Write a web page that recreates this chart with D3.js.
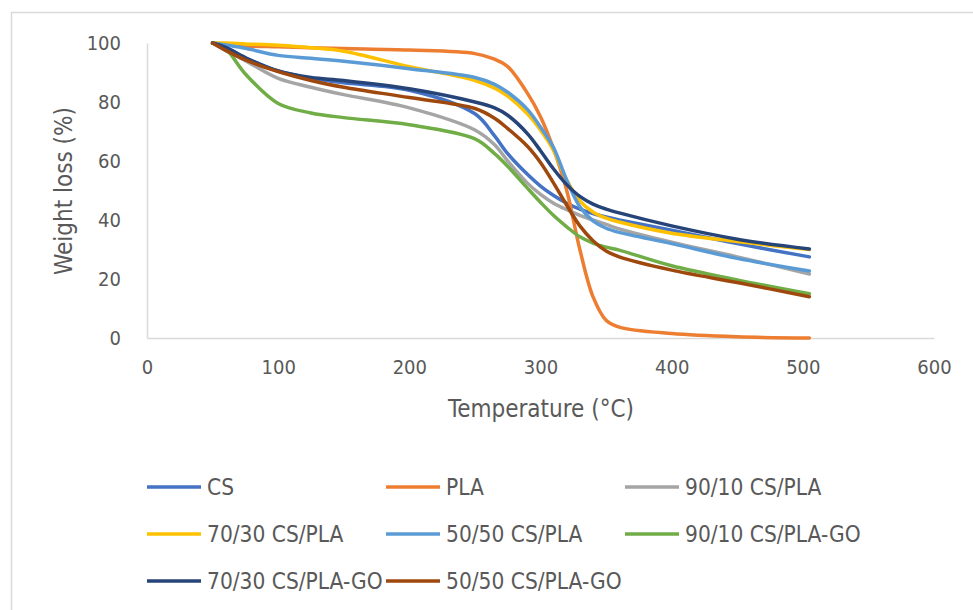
<!DOCTYPE html>
<html>
<head>
<meta charset="utf-8">
<script src="https://cdn.jsdelivr.net/npm/d3@7"></script>
<style>
  html, body { margin: 0; padding: 0; background: #fff; }
  svg text { font-family: "Liberation Sans Narrow", "DejaVu Sans Condensed", "Liberation Sans", sans-serif; fill: #595959; }
</style>
</head>
<body>
<svg id="chart" width="973" height="610"></svg>
<script>
// ---- data ----
const temps = [50, 60, 75, 100, 125, 150, 200, 250, 265, 275, 290, 300, 310, 320, 330, 340, 350, 360, 400, 450, 505];
const seriesNames = ["CS", "PLA", "90/10 CS/PLA", "70/30 CS/PLA", "50/50 CS/PLA", "90/10 CS/PLA-GO", "70/30 CS/PLA-GO", "50/50 CS/PLA-GO"];
const seriesColors = ["#4472C4", "#ED7D31", "#A5A5A5", "#FFC000", "#5B9BD5", "#70AD47", "#264478", "#9E480E"];
const cs        = [100, 98.5, 95, 90.5, 88, 86.5, 84, 76, 68.5, 62.5, 55.5, 51.5, 48.3, 45.7, 43.7, 42.2, 41, 40, 36.5, 32, 27.5];
const pla       = [100, 99.5, 99, 98.7, 98.4, 98.1, 97.6, 96.4, 94.5, 92, 83, 75, 64, 50, 30, 14, 6, 3.7, 1.5, 0.4, 0];
const cs90pla10 = [100, 97.5, 94, 88, 85, 82.5, 78, 70.5, 65.5, 60, 52.5, 48.7, 45.7, 43.5, 41.6, 40, 38.5, 37, 32.5, 27.5, 21.7];
const cs70pla30 = [100, 100, 99.7, 99.2, 98.4, 97.2, 92, 87.3, 84.7, 82, 76, 70.5, 63.5, 53.5, 46.5, 42.7, 40.6, 39.3, 35.5, 32.7, 30];
const cs50pla50 = [100, 99.3, 98.2, 95.8, 94.8, 93.8, 91.3, 88.3, 86, 83.3, 77.5, 71.5, 64.5, 53.5, 44.5, 39.7, 37.2, 35.8, 32, 27, 22.7];
const go90      = [100, 98, 89.5, 79.5, 76.3, 74.7, 72.3, 67.5, 62.5, 58.2, 50.8, 46, 41.5, 37.7, 34.3, 32.2, 30.8, 29.8, 24.5, 19.7, 15];
const go70      = [100, 98.5, 95, 90.5, 88.3, 87.3, 84.5, 80, 78, 75.5, 69.3, 63.5, 57.3, 52, 48, 45.4, 43.7, 42.4, 38, 33.5, 30.2];
const go50      = [100, 97.5, 94.3, 90.3, 87.3, 85, 81.5, 77.8, 74.5, 71, 65, 59.5, 52.5, 45, 38, 33, 29.5, 27.5, 23, 18.8, 14];
const xTicks = [0, 100, 200, 300, 400, 500, 600];
const yTicks = [0, 20, 40, 60, 80, 100];
const xTitle = "Temperature (°C)";
const yTitle = "Weight loss (%)";

const seriesValues = [cs, pla, cs90pla10, cs70pla30, cs50pla50, go90, go70, go50];

// ---- drawing ----
const svg = d3.select("#chart");
svg.append("rect").attr("x", 11.5).attr("y", 12.5).attr("width", 980).attr("height", 620)
  .attr("fill", "#fff").attr("stroke", "#d9d9d9").attr("stroke-width", 1.5);

const x = d3.scaleLinear().domain([0, 600]).range([147, 934]);
const y = d3.scaleLinear().domain([0, 100]).range([338, 43]);

// axes
const xAxis = svg.append("g").attr("transform", `translate(0,${y(0)})`)
  .call(d3.axisBottom(x).tickValues(xTicks).tickSize(0).tickPadding(22));
xAxis.select(".domain").attr("stroke", "#d9d9d9").attr("stroke-width", 1.5);
xAxis.selectAll("text").style("font-size", "20px");

const yAxis = svg.append("g").attr("transform", `translate(${x(0)},0)`)
  .call(d3.axisLeft(y).tickValues(yTicks).tickSize(0).tickPadding(26));
yAxis.select(".domain").attr("stroke", "#d9d9d9").attr("stroke-width", 1.5);
yAxis.selectAll("text").style("font-size", "20px");

svg.append("text").attr("x", 541).attr("y", 417).attr("text-anchor", "middle")
  .style("font-size", "24px").text(xTitle);
svg.append("text").attr("transform", "translate(72,191) rotate(-90)").attr("text-anchor", "middle")
  .style("font-size", "24px").text(yTitle);

// lines
const line = d3.line().x(d => x(d[0])).y(d => y(d[1])).curve(d3.curveCatmullRom.alpha(0.5));
seriesValues.forEach((vals, i) => {
  svg.append("path")
    .datum(temps.map((t, j) => [t, vals[j]]))
    .attr("fill", "none")
    .attr("stroke", seriesColors[i])
    .attr("stroke-width", 3.5)
    .attr("stroke-linejoin", "round")
    .attr("stroke-linecap", "round")
    .attr("d", line);
});

// legend
const colX = [147, 386, 625];
const rowY = [487, 534, 581];
seriesNames.forEach((name, i) => {
  const cx = colX[i % 3], cy = rowY[Math.floor(i / 3)];
  svg.append("line").attr("x1", cx).attr("x2", cx + 54).attr("y1", cy).attr("y2", cy)
    .attr("stroke", seriesColors[i]).attr("stroke-width", 3.5);
  svg.append("text").attr("x", cx + 60).attr("y", cy).attr("dy", "0.35em")
    .style("font-size", "22.5px").text(name);
});
</script>
</body>
</html>
